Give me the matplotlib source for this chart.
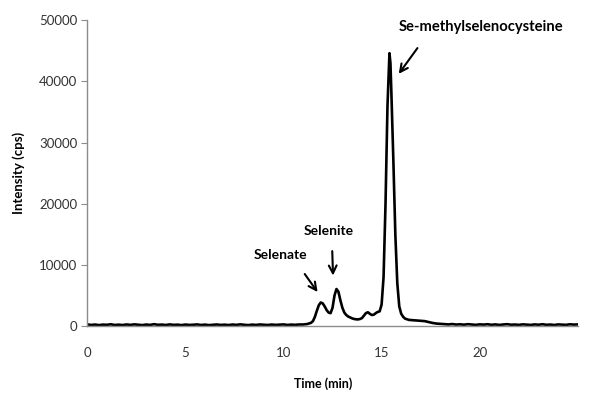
import matplotlib
matplotlib.use("Agg")
import matplotlib.pyplot as plt

plt.rcParams['font.family'] = ['Lato', 'DejaVu Sans']

# chromatogram (time in min, intensity in cps)
base_start_t = [0.0, 0.2, 0.4, 0.6, 0.8, 1.0, 1.2, 1.4, 1.6, 1.8,
                2.0, 2.2, 2.4, 2.6, 2.8, 3.0, 3.2, 3.4, 3.6, 3.8,
                4.0, 4.2, 4.4, 4.6, 4.8, 5.0, 5.2, 5.4, 5.6, 5.8,
                6.0, 6.2, 6.4, 6.6, 6.8, 7.0, 7.2, 7.4, 7.6, 7.8,
                8.0, 8.2, 8.4, 8.6, 8.8, 9.0, 9.2, 9.4, 9.6, 9.8,
                10.0, 10.2, 10.4, 10.6, 10.8]
base_start_i = [260, 180, 240, 150, 230, 200, 280, 170, 220, 160,
                250, 190, 270, 210, 150, 240, 180, 300, 200, 230,
                170, 260, 190, 220, 150, 240, 180, 210, 260, 170,
                230, 150, 200, 250, 180, 220, 160, 240, 190, 270,
                200, 150, 230, 180, 250, 210, 170, 240, 190, 220,
                260, 180, 230, 200, 250]

peak_t = [11.0, 11.2, 11.4, 11.5, 11.6, 11.7, 11.8, 11.9, 12.0, 12.1,
          12.2, 12.3, 12.4, 12.5, 12.6, 12.7, 12.8, 12.9, 13.0, 13.1,
          13.2, 13.3, 13.4, 13.5, 13.6, 13.7, 13.8, 13.9, 14.0, 14.1,
          14.2, 14.3, 14.4, 14.5, 14.6, 14.7, 14.8, 14.9, 15.0, 15.1,
          15.2, 15.3, 15.4, 15.45, 15.5, 15.6, 15.7, 15.8, 15.9, 16.0,
          16.1, 16.2, 16.4, 16.6, 16.8, 17.0, 17.2, 17.4, 17.6, 17.8, 18.0]
peak_i = [250, 320, 520, 800, 1500, 2500, 3400, 3850, 3700, 3200,
          2600, 2200, 2100, 3000, 5000, 6050, 5600, 4200, 3000, 2200,
          1800, 1550, 1400, 1250, 1150, 1100, 1080, 1150, 1300, 1700,
          2100, 2250, 2000, 1800, 1850, 2100, 2300, 2400, 3500, 8000,
          20000, 36000, 44600, 43000, 38000, 27000, 15000, 7000, 3200, 2000,
          1500, 1200, 1000, 950, 900, 850, 800, 650, 500, 400, 350]

base_end_t = [18.2, 18.4, 18.6, 18.8, 19.0, 19.2, 19.4, 19.6, 19.8, 20.0,
              20.2, 20.4, 20.6, 20.8, 21.0, 21.2, 21.4, 21.6, 21.8, 22.0,
              22.2, 22.4, 22.6, 22.8, 23.0, 23.2, 23.4, 23.6, 23.8, 24.0,
              24.2, 24.4, 24.6, 24.8, 25.0]
base_end_i = [300, 260, 320, 240, 280, 220, 300, 250, 190, 270,
              230, 290, 200, 260, 180, 250, 300, 210, 240, 190,
              270, 220, 180, 260, 210, 290, 200, 240, 170, 260,
              220, 190, 280, 230, 260]

time = base_start_t + peak_t + base_end_t
intensity = base_start_i + peak_i + base_end_i

x_ticks = [0, 5, 10, 15, 20]
y_ticks = [0, 10000, 20000, 30000, 40000, 50000]

fig = plt.figure(figsize=(6.0, 4.03), dpi=100)
ax = fig.add_axes([0.1455, 0.191, 0.8175, 0.759])

ax.plot(time, intensity, color='black', linewidth=1.9)

ax.set_xlim(0, 25)
ax.set_ylim(0, 50000)
ax.set_xticks(x_ticks)
ax.set_yticks(y_ticks)

for side in ['top', 'right']:
    ax.spines[side].set_visible(False)
for side in ['left', 'bottom']:
    ax.spines[side].set_color('#8c8c8c')
    ax.spines[side].set_linewidth(1.0)

ax.tick_params(axis='y', length=4, color='#8c8c8c', labelsize=9.5,
               labelcolor='#333333', pad=3)
ax.tick_params(axis='x', length=0, labelsize=9.5, labelcolor='#333333', pad=15)

ax.set_xlabel('Time (min)', fontsize=9, fontweight='bold')
ax.set_ylabel('Intensity (cps)', fontsize=9.5, fontweight='bold')
ax.xaxis.set_label_coords(0.48, -0.167)
ax.yaxis.set_label_coords(-0.127, 0.5)

arrow = dict(arrowstyle='->', color='black', lw=1.5, mutation_scale=14)
ax.annotate('', xy=(11.82, 5180), xytext=(11.0, 8870), arrowprops=arrow)
ax.annotate('', xy=(12.53, 7790), xytext=(12.48, 12700), arrowprops=arrow)
ax.annotate('', xy=(15.79, 40850), xytext=(16.91, 45800), arrowprops=arrow)

ax.text(9.87, 11600, 'Selenate', ha='center', va='center',
        fontsize=10, fontweight='bold')
ax.text(12.29, 15520, 'Selenite', ha='center', va='center',
        fontsize=10, fontweight='bold')
ax.text(20.06, 48860, 'Se-methylselenocysteine', ha='center', va='center',
        fontsize=10.6, fontweight='bold')

plt.savefig('out.png', dpi=100)
